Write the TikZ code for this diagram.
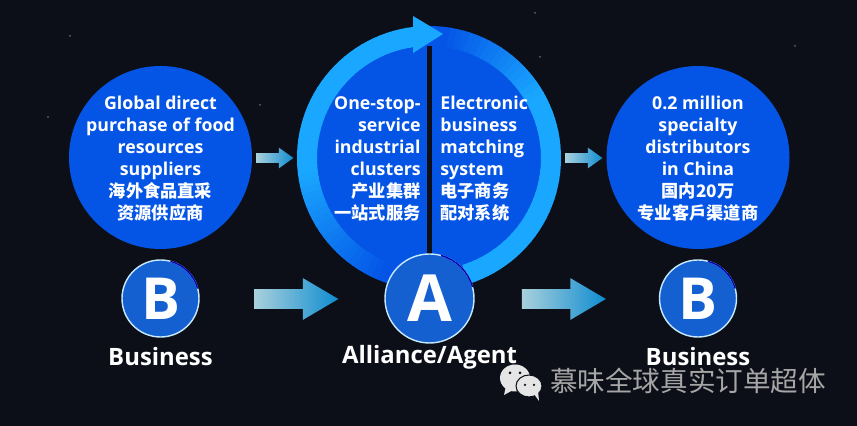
\documentclass[tikz,border=0pt]{standalone}
\usepackage{fontspec}
\setmainfont{Open Sans}
\newfontfamily\cjk{Noto Sans CJK SC}
\usetikzlibrary{shapes.arrows}
\definecolor{night}{HTML}{0D0F18}
\definecolor{deep}{HTML}{0455E6}
\definecolor{sky}{HTML}{1AA7FF}
\definecolor{badge}{HTML}{1560D0}
\definecolor{pale}{HTML}{A8D0DC}
\definecolor{stream}{HTML}{0F8CD0}
\newcommand{\zh}[1]{{\cjk\bfseries\fontsize{9.8}{12.5}\selectfont #1}}
\begin{document}
\begin{tikzpicture}[
  bubble/.style={circle,fill=deep,inner sep=0pt,outer sep=0pt,minimum size=3.66cm},
  words/.style={text=white,font=\bfseries\fontsize{10.1}{12.5}\selectfont,inner sep=0pt},
  badgeb/.style={circle,fill=badge,draw=white!75!sky,line width=.8pt,inner sep=0pt,outer sep=0pt,text=white,font=\bfseries\fontsize{33}{36}\selectfont},
  caption/.style={text=white,font=\bfseries\fontsize{13.6}{15}\selectfont,inner sep=0pt},
  flow/.style={single arrow,inner sep=0pt,outer sep=0pt,shape border rotate=0,left color=pale,right color=stream},
  bigflow/.style={flow,minimum height=1.68cm,minimum width=.82cm,text height=.38cm,single arrow head extend=.22cm,single arrow tip angle=61},
  smallflow/.style={flow,minimum height=.74cm,minimum width=.40cm,text height=.18cm,single arrow head extend=.11cm,single arrow tip angle=71},
  rimdark/.style={draw=blue!70!black,line width=.8pt}]
  \fill[night] (0,0) rectangle (17.14,8.52);
  \foreach \sx/\sy in {5.2/6.42,10.8/7.38,10.7/8.26,.96/6.18,1.4/7.8,15.9/7.6}
    \fill[white!35!night] (\sx,\sy) circle (.02);

  \node[bubble] (source) at (3.21,5.37) {};
  \node[bubble] (dealer) at (13.96,5.37) {};
  \node[words,align=center] (sourcetext) at (3.21,5.35) {Global direct\\purchase of food\\resources\\suppliers\\\zh{海外食品直采}\\\zh{资源供应商}};
  \node[words,align=center] (dealertext) at (13.96,5.35) {0.2 million\\specialty\\distributors\\in China\\\zh{国内20万}\\\zh{专业客戶渠道商}};

  \node[bubble,minimum size=4.6cm] (hub) at (8.58,5.36) {};
  \foreach \a in {262,259,...,99}{
    \pgfmathsetmacro{\mix}{min(100,max(0,(250-\a)*1.6))}
    \draw[line width=.4cm,color=sky!\mix!deep] (hub.center) ++(\a:2.44) arc[start angle=\a,end angle=\a-3.6,radius=2.44];
  }
  \foreach \a in {90,87,...,-70}{
    \pgfmathsetmacro{\mix}{min(100,max(0,(84-\a)*1.9))}
    \draw[line width=.4cm,color=sky!\mix!deep] (hub.center) ++(\a:2.44) arc[start angle=\a,end angle=\a-3.6,radius=2.44];
  }
  \fill[night] (8.54,3.2) rectangle (8.64,7.6);
  \fill[sky] (8.86,7.84) -- (8.26,8.2) -- (8.26,7.46) -- cycle;
  \node[words,align=right,anchor=east] (clusters) at (8.42,5.34) {One-stop-\\service\\industrial\\clusters\\\zh{产业集群}\\\zh{一站式服务}};
  \node[words,align=left,anchor=west] (matching) at (8.80,5.34) {Electronic\\business\\matching\\system\\\zh{电子商务}\\\zh{配对系统}};

  \node[smallflow] (flowin) at (5.43,5.36) {};
  \node[smallflow] (flowout) at (11.61,5.36) {};
  \node[bigflow] (flowa) at (5.76,2.54) {};
  \node[bigflow] (flowb) at (11.11,2.54) {};

  \node[badgeb,minimum size=1.54cm] (bleft) at (3.21,2.55) {B};
  \node[badgeb,minimum size=1.78cm,font=\bfseries\fontsize{37}{40}\selectfont] (agent) at (8.59,2.55) {A};
  \node[badgeb,minimum size=1.54cm] (bright) at (13.96,2.55) {B};
  \foreach \n/\r in {bleft/.77,agent/.89,bright/.77}
    \draw[rimdark] (\n.15) arc[start angle=15,end angle=75,radius=\r];

  \node[caption] (bizleft) at (3.21,1.38) {Business};
  \node[caption] (alliance) at (8.59,1.38) {Alliance/Agent};
  \node[caption] (bizright) at (13.96,1.38) {Business};

  \fill[white!90!black] (10.30,.96) ellipse (.30 and .27);
  \fill[white!90!black] (10.12,.80) -- (10.08,.62) -- (10.30,.74) -- cycle;
  \fill[night] (10.2,1.06) circle (.03) (10.4,1.06) circle (.03);
  \filldraw[fill=white!90!black,draw=night,line width=.6pt] (10.58,.80) ellipse (.26 and .22);
  \fill[white!90!black] (10.68,.64) -- (10.78,.50) -- (10.76,.70) -- cycle;
  \fill[night] (10.5,.82) circle (.025) (10.68,.82) circle (.025);
  \node[text=white!65!black,inner sep=0pt,font=\cjk\fontsize{15.7}{18}\selectfont] (mark) at (13.76,.90) {慕味全球真实订单超体};
\end{tikzpicture}
\end{document}
